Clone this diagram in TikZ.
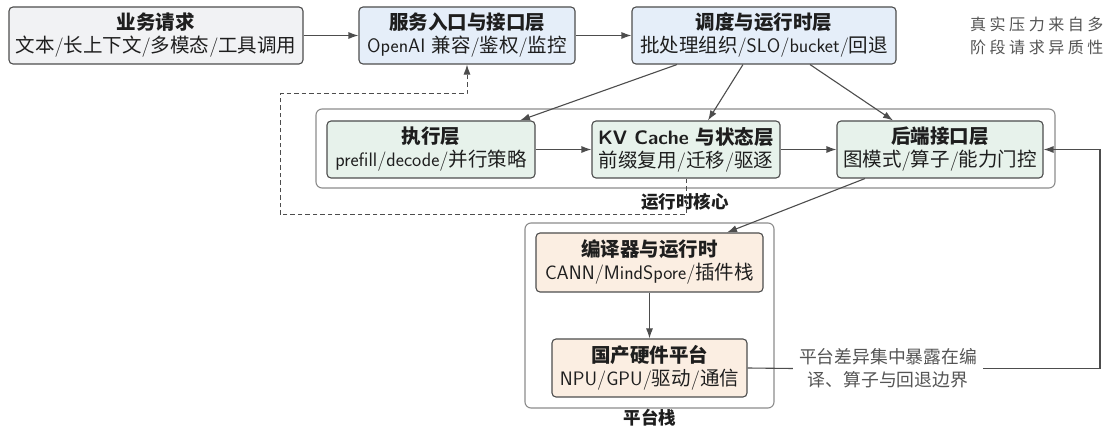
\documentclass[tikz,border=0pt]{standalone}
\usepackage{fontspec}
\usetikzlibrary{arrows.meta,calc}
\newfontfamily\cjk{Noto Sans CJK SC}
\newfontfamily\cjksp[LetterSpace=22]{Noto Sans CJK SC}
\newcommand\C[1]{{\cjk #1}}
\definecolor{edgegray}{HTML}{4D4D4D}
\definecolor{contgray}{HTML}{8C8C8C}
\definecolor{txt}{HTML}{1E1E1E}
\definecolor{anntxt}{HTML}{555555}
\definecolor{fillgray}{HTML}{F1F2F4}
\definecolor{fillblue}{HTML}{E5EEF9}
\definecolor{fillgreen}{HTML}{E7F2EB}
\definecolor{fillpeach}{HTML}{FBEEE2}
\tikzset{
  box/.style={draw=edgegray, line width=1.1pt, rounded corners=4pt, align=center,
    inner sep=0pt, minimum height=57pt, text=txt,
    font=\sffamily\fontsize{19.5}{23}\selectfont},
  container/.style={draw=contgray, line width=1.1pt, rounded corners=6pt, fill=white, inner sep=0pt},
  grouplabel/.style={font=\sffamily\bfseries\fontsize{17.5}{20}\selectfont, text=txt, inner sep=0pt},
  annot/.style={font=\sffamily\fontsize{17.8}{23}\selectfont, text=anntxt, align=center, inner xsep=6pt, inner ysep=0pt},
  arr/.style={draw=edgegray, line width=1.1pt, -{Latex[length=10pt,width=7pt]}},
  plainline/.style={draw=edgegray, line width=1.1pt},
  dasharr/.style={draw=edgegray, line width=1pt, dash pattern=on 4.5pt off 3pt, -{Latex[length=10pt,width=7pt]}},
}
\begin{document}
\begin{tikzpicture}[x=1pt,y=-1pt]
\useasboundingbox (0,0) rectangle (1109,430);
\fill[white] (0,0) rectangle (1109,430);

% containers
\node[container, minimum width=739pt, minimum height=79pt] (core) at (685.5,148.5) {};
\node[container, minimum width=249pt, minimum height=185pt] (plat) at (649.5,315.5) {};
\node[grouplabel] (corelbl) at (685,202) {\C{运行时核心}};
\node[grouplabel] (platlbl) at (650,418) {\C{平台栈}};

% top row
\node[box, fill=fillgray, minimum width=294pt] (req) at (156,35.5)
  {\textbf{\C{业务请求}}\\\C{文本}/\C{长上下文}/\C{多模态}/\C{工具调用}};
\node[box, fill=fillblue, minimum width=216pt] (svc) at (467,35.5)
  {\textbf{\C{服务入口与接口层}}\\OpenAI \C{兼容}/\C{鉴权}/\C{监控}};
\node[box, fill=fillblue, minimum width=264pt] (sched) at (764,35.5)
  {\textbf{\C{调度与运行时层}}\\\C{批处理组织}/SLO/bucket/\C{回退}};

% runtime core
\node[box, fill=fillgreen, minimum width=208pt] (exec) at (431,149.5)
  {\textbf{\C{执行层}}\\prefill/decode/\C{并行策略}};
\node[box, fill=fillgreen, minimum width=188pt] (kv) at (686,149.5)
  {\textbf{KV Cache \C{与状态层}}\\\C{前缀复用}/\C{迁移}/\C{驱逐}};
\node[box, fill=fillgreen, minimum width=206pt] (backend) at (940,149.5)
  {\textbf{\C{后端接口层}}\\\C{图模式}/\C{算子}/\C{能力门控}};

% platform stack
\node[box, fill=fillpeach, minimum width=227pt, minimum height=59pt] (comp) at (649.5,262.5)
  {\textbf{\C{编译器与运行时}}\\CANN/MindSpore/\C{插件栈}};
\node[box, fill=fillpeach, minimum width=195pt, minimum height=58pt] (hw) at (649.5,368)
  {\textbf{\C{国产硬件平台}}\\NPU/GPU/\C{驱动}/\C{通信}};

% annotations
\node[annot] (gap) at (888,368.5) {\C{平台差异集中暴露在编}\\\C{译、算子与回退边界}};
\node[anchor=west, align=left, inner sep=0pt, text=anntxt,
  font=\fontsize{16}{23}\selectfont] (pressure) at (970,36)
  {\cjksp 真实压力来自多\\\cjksp 阶段请求异质性};

% connectors
\draw[arr] (req.east) -- (svc.west);
\draw[arr] (svc.east) -- (sched.west);
\draw[arr] ([xshift=-87pt]sched.south) -- ([xshift=89pt]exec.north);
\draw[arr] ([xshift=-21pt]sched.south) -- ([xshift=22pt]kv.north);
\draw[arr] ([xshift=46pt]sched.south) -- ([xshift=-47pt]backend.north);
\draw[arr] (exec.east) -- (kv.west);
\draw[arr] (kv.east) -- (backend.west);
\draw[arr] ([xshift=-75pt]backend.south) -- ([xshift=77.5pt]comp.north);
\draw[arr] (comp.south) -- (hw.north);

\coordinate (fbx) at (1100,368);
\draw[plainline] (hw.east) -- (gap.west);
\draw[arr] (gap.east) -- (gap.east -| fbx) |- (backend.east);

\coordinate (dA) at (280,215);
\coordinate (dB) at (280,94);
\draw[dasharr] (kv.south) |- (dA) -- (dB) -| (svc.south);
\end{tikzpicture}
\end{document}
